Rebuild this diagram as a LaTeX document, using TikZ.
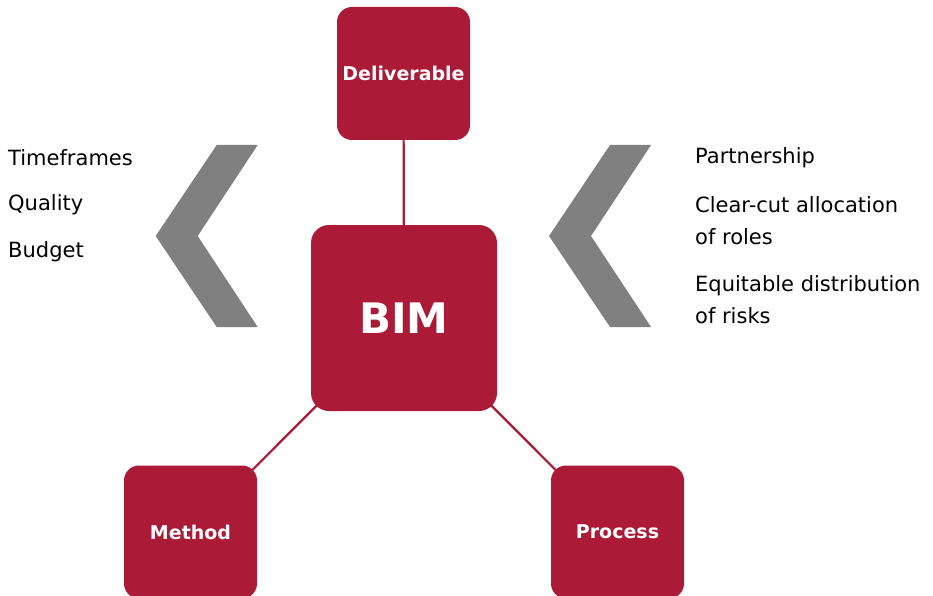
\documentclass[tikz,border=0pt]{standalone}
\usepackage{fontspec}
\setmainfont{DejaVu Sans}
\usepackage{tikz}
\usetikzlibrary{positioning,backgrounds}
\definecolor{bimred}{HTML}{AB1A37}
\definecolor{chevgray}{HTML}{808080}
\tikzset{
  box/.style    = {rectangle, fill=bimred, text=white, inner sep=0pt,
                   rounded corners=15pt, minimum width=133pt, minimum height=133pt,
                   font=\fontsize{19}{22}\selectfont\bfseries},
  core/.style   = {box, rounded corners=18pt, minimum width=186pt, minimum height=186pt,
                   font=\fontsize{42}{48}\selectfont\bfseries},
  item/.style   = {anchor=west, inner sep=0pt, align=left,
                   font=\fontsize{21}{32}\selectfont},
  link/.style   = {draw=bimred, line width=2.2pt}
}
\begin{document}
\begin{tikzpicture}[x=1pt, y=-1pt]
  \useasboundingbox (0,0) rectangle (933,596);

  % the four boxes
  \node[core] (bim) at (404,318) {BIM};
  \node[box] (deliv) at (403.5,73.5) {Deliverable};
  \node[box] (method) at (190.5,532) {Method};
  \node[box] (process) at (617.5,532) {Process};

  % links behind the boxes
  \begin{pgfonlayer}{background}
    \foreach \target in {deliv,method,process}
      \draw[link] (bim.center) -- (\target.center);
  \end{pgfonlayer}

  % the two grey chevrons
  \foreach \dx in {0,393.3}
    \fill[chevgray] (216.7+\dx,145) -- (257.7+\dx,145) -- (197.7+\dx,236)
      -- (257.7+\dx,327) -- (216.7+\dx,327) -- (155.7+\dx,236) -- cycle;

  % left list
  \node[item] (time) at (8,158) {Timeframes};
  \node[item] (qual) at (8,205) {Quality};
  \node[item] (budg) at (8,252) {Budget};

  % right list
  \node[item] (part) at (695,158) {Partnership};
  \node[item] (roles) at (695,221) {Clear-cut allocation\\of roles};
  \node[item] (risks) at (695,300) {Equitable distribution\\of risks};
\end{tikzpicture}
\end{document}
